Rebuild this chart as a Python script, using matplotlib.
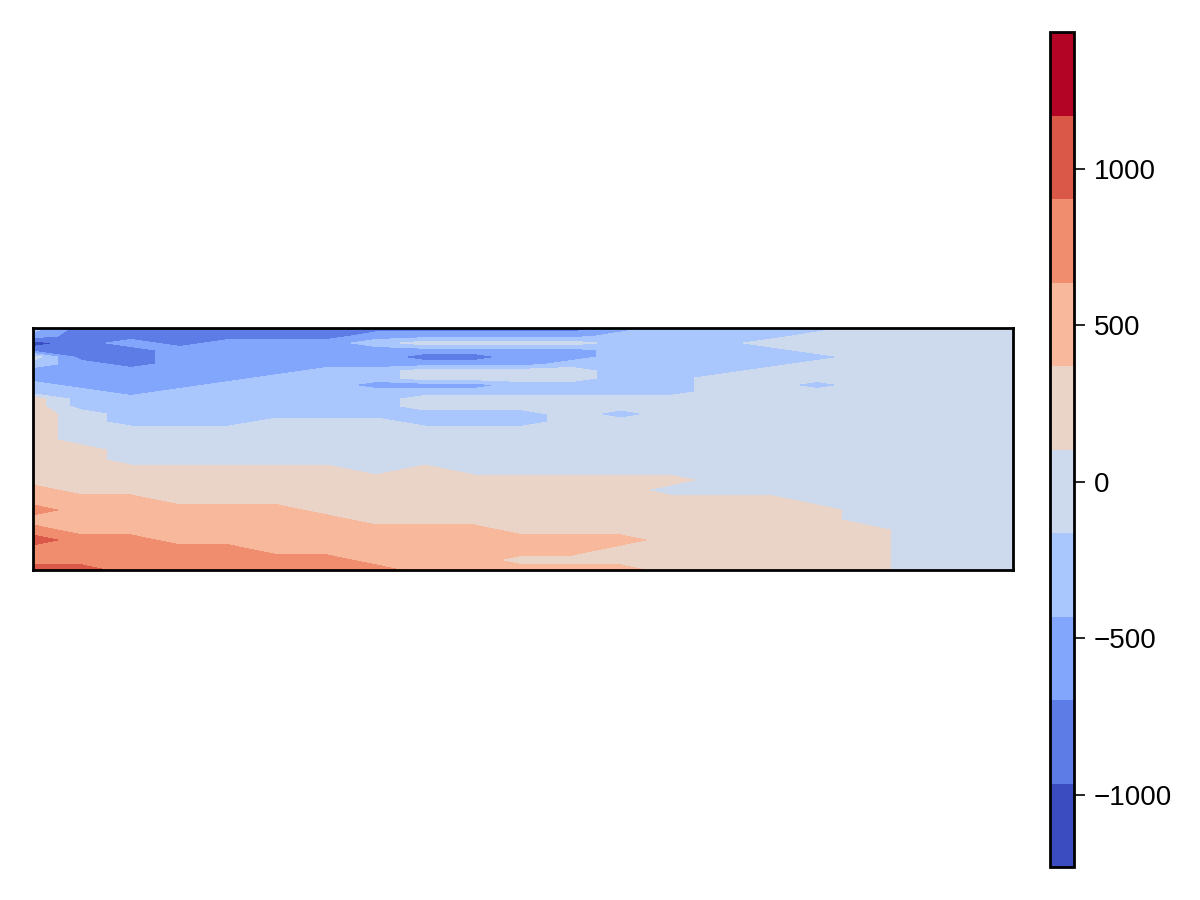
import numpy as np
import matplotlib
matplotlib.use("Agg")
import matplotlib.pyplot as plt

plt.rcParams["font.family"] = ["Liberation Sans", "DejaVu Sans"]
plt.rcParams["font.size"] = 10

# contour levels
levels = np.linspace(-1230, 1437, 11)
band_colors = plt.get_cmap("coolwarm")(np.linspace(0, 1, 10))

# representative value of each colour band (0 = darkest blue ... 9 = darkest red)
band_values = [-1097, -830, -563, -297, -30, 237, 504, 771, 1037, 1304]

# section coordinates: 21 columns along x, 29 rows down the section
dist = np.arange(21) * 49
depth = [0, 8, 15, 22, 29, 36, 43, 50, 57, 64, 71, 78, 86, 94, 102,
         112, 122, 132, 142, 152, 162, 172, 182, 192, 202, 212, 222, 232, 242]

# band read at each grid point, one string per column (top -> bottom)
columns = [
    "3201432233" "5555555555" "667678778",
    "1111122223" "3344445555" "566667778",
    "1121112222" "3333444455" "566667777",
    "1112222223" "3333444455" "556666777",
    "1122222233" "3333444455" "556666777",
    "1122222333" "3334444455" "556666677",
    "1122223333" "3334444455" "555666677",
    "1232223323" "3334444445" "555566667",
    "1242124423" "4433444455" "555566666",
    "1242124423" "4433444445" "555566666",
    "1242224433" "4433444445" "555556656",
    "1242234433" "4444444445" "555556656",
    "2333333333" "4434444445" "555556556",
    "3333333333" "4444444445" "455555555",
    "3333333444" "4444444444" "455555555",
    "3343334444" "4444444444" "455555555",
    "3444344434" "4444444444" "445555555",
    "4444444444" "4444444444" "444455555",
    "4444444444" "4444444444" "444444444",
    "4444444444" "4444444444" "444444444",
    "4444444444" "4444444444" "444444444",
]

codes = np.array([[int(c) for c in col] for col in columns]).T
field = np.array(band_values)[codes]

fig = plt.figure(figsize=(6, 4.5), dpi=200)
ax = fig.add_axes([33 / 1200, 1 - 570 / 900, 980 / 1200, 242 / 900])
cf = ax.contourf(dist, depth, field, levels=levels, colors=band_colors)
ax.set_xlim(dist[0], dist[-1])
ax.set_ylim(depth[-1], depth[0])
ax.set_xticks([])
ax.set_yticks([])
for sp in ax.spines.values():
    sp.set_linewidth(1.0)

cax = fig.add_axes([1050 / 1200, 1 - 867 / 900, 24 / 1200, 835 / 900])
cb = fig.colorbar(cf, cax=cax)
cb.set_ticks([-1000, -500, 0, 500, 1000])
cb.outline.set_linewidth(1.0)
cax.tick_params(length=4, width=0.6, pad=3)

fig.savefig("out.png", dpi=200)
plt.close(fig)
